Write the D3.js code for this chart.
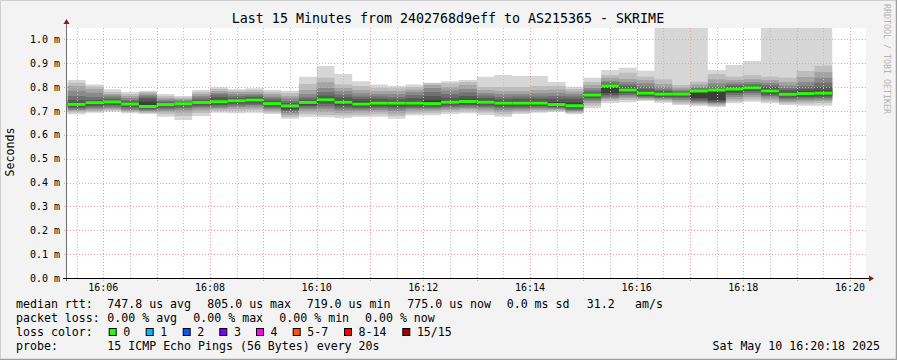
<!DOCTYPE html>
<html><head><meta charset="utf-8">
<script src="https://cdn.jsdelivr.net/npm/d3@7"></script>
<style>
body{margin:0;background:#f3f3f3}
svg{display:block}
text{font-family:"DejaVu Sans Mono",monospace;fill:#000}
</style></head>
<body><svg id="c" width="897" height="360"></svg>
<script>
// ---------------- data ----------------
const title = "Last 15 Minutes from 2402768d9eff to AS215365 - SKRIME";
const yLabel = "Seconds";
const rangeStart = "2025-05-10T16:05:18";
const rangeEnd = "2025-05-10T16:20:18";
const firstSample = "2025-05-10T16:05:20";
const stepSeconds = 20;
// 15 sorted pings (ms) per 20 s sample
const pings = [
[0.686,0.694,0.700,0.704,0.711,0.715,0.721,0.728,0.736,0.746,0.763,0.785,0.805,0.819,0.830],
[0.693,0.698,0.702,0.709,0.715,0.721,0.727,0.735,0.740,0.746,0.759,0.777,0.792,0.803,0.811],
[0.697,0.702,0.707,0.713,0.719,0.725,0.732,0.738,0.742,0.748,0.757,0.765,0.771,0.780,0.791],
[0.691,0.696,0.700,0.704,0.711,0.717,0.723,0.729,0.734,0.740,0.746,0.755,0.763,0.771,0.780],
[0.688,0.692,0.696,0.700,0.704,0.709,0.713,0.719,0.740,0.753,0.761,0.767,0.774,0.780,0.785],
[0.676,0.688,0.696,0.702,0.709,0.715,0.721,0.727,0.732,0.736,0.742,0.748,0.755,0.763,0.771],
[0.662,0.679,0.694,0.704,0.713,0.719,0.725,0.730,0.733,0.736,0.740,0.746,0.751,0.757,0.763],
[0.679,0.692,0.702,0.711,0.717,0.723,0.730,0.736,0.740,0.746,0.755,0.763,0.771,0.780,0.788],
[0.693,0.700,0.707,0.713,0.719,0.725,0.732,0.739,0.746,0.759,0.769,0.776,0.784,0.792,0.800],
[0.691,0.700,0.709,0.717,0.723,0.730,0.736,0.743,0.748,0.755,0.763,0.771,0.780,0.786,0.791],
[0.693,0.702,0.711,0.719,0.725,0.732,0.738,0.746,0.753,0.759,0.765,0.771,0.780,0.788,0.795],
[0.688,0.694,0.700,0.707,0.713,0.719,0.725,0.731,0.736,0.744,0.753,0.761,0.771,0.780,0.788],
[0.668,0.675,0.683,0.692,0.698,0.704,0.711,0.721,0.725,0.734,0.742,0.753,0.763,0.776,0.785],
[0.676,0.688,0.698,0.707,0.715,0.721,0.727,0.736,0.742,0.748,0.758,0.771,0.788,0.813,0.844],
[0.674,0.683,0.696,0.709,0.719,0.730,0.738,0.747,0.755,0.765,0.780,0.797,0.821,0.839,0.889],
[0.671,0.681,0.692,0.702,0.711,0.719,0.727,0.737,0.746,0.758,0.769,0.784,0.797,0.812,0.855],
[0.675,0.683,0.694,0.702,0.709,0.715,0.721,0.729,0.740,0.751,0.761,0.774,0.788,0.805,0.825],
[0.676,0.686,0.696,0.704,0.713,0.719,0.725,0.733,0.740,0.751,0.761,0.771,0.784,0.797,0.811],
[0.668,0.679,0.690,0.700,0.709,0.717,0.725,0.733,0.740,0.748,0.759,0.771,0.784,0.795,0.805],
[0.682,0.690,0.698,0.707,0.713,0.719,0.725,0.733,0.742,0.755,0.767,0.780,0.790,0.801,0.811],
[0.682,0.692,0.700,0.707,0.713,0.719,0.725,0.731,0.746,0.763,0.780,0.797,0.809,0.816,0.819],
[0.688,0.696,0.704,0.711,0.717,0.723,0.730,0.737,0.744,0.757,0.771,0.786,0.801,0.816,0.825],
[0.691,0.698,0.707,0.713,0.719,0.725,0.732,0.740,0.748,0.763,0.778,0.792,0.809,0.822,0.830],
[0.683,0.694,0.702,0.711,0.717,0.723,0.730,0.737,0.744,0.755,0.765,0.776,0.788,0.801,0.844],
[0.676,0.686,0.696,0.704,0.713,0.719,0.725,0.733,0.740,0.748,0.759,0.771,0.784,0.801,0.851],
[0.688,0.694,0.700,0.707,0.713,0.719,0.725,0.733,0.740,0.751,0.761,0.771,0.784,0.801,0.847],
[0.693,0.698,0.704,0.711,0.715,0.721,0.725,0.733,0.740,0.751,0.761,0.774,0.788,0.805,0.847],
[0.696,0.700,0.704,0.709,0.713,0.717,0.721,0.727,0.738,0.751,0.763,0.776,0.790,0.805,0.822],
[0.686,0.692,0.696,0.700,0.704,0.709,0.715,0.722,0.736,0.751,0.761,0.771,0.782,0.792,0.802],
[0.712,0.723,0.734,0.742,0.748,0.755,0.761,0.767,0.771,0.778,0.786,0.797,0.809,0.822,0.839],
[0.734,0.742,0.749,0.755,0.761,0.767,0.776,0.805,0.809,0.813,0.820,0.827,0.839,0.851,0.872],
[0.737,0.746,0.755,0.761,0.767,0.774,0.780,0.788,0.795,0.803,0.811,0.822,0.834,0.860,0.881],
[0.742,0.746,0.751,0.755,0.759,0.763,0.767,0.775,0.782,0.791,0.802,0.816,0.830,0.844,0.869],
[0.735,0.740,0.746,0.751,0.755,0.759,0.765,0.771,0.778,0.784,0.790,0.801,0.813,0.833,1.200],
[0.725,0.732,0.739,0.746,0.753,0.759,0.765,0.771,0.774,0.778,0.784,0.790,0.799,0.809,1.200],
[0.721,0.727,0.733,0.737,0.742,0.748,0.755,0.784,0.786,0.790,0.795,0.801,0.811,0.823,1.200],
[0.717,0.722,0.727,0.733,0.736,0.740,0.746,0.788,0.791,0.795,0.802,0.816,0.833,0.855,0.872],
[0.733,0.740,0.749,0.759,0.767,0.776,0.782,0.792,0.797,0.804,0.811,0.820,0.830,0.844,0.893],
[0.739,0.748,0.759,0.767,0.776,0.783,0.788,0.797,0.801,0.806,0.813,0.822,0.833,0.851,0.910],
[0.733,0.740,0.748,0.757,0.763,0.769,0.776,0.784,0.792,0.801,0.809,0.818,0.830,0.844,1.200],
[0.725,0.732,0.738,0.744,0.751,0.757,0.763,0.770,0.778,0.788,0.797,0.807,0.822,0.839,1.200],
[0.722,0.732,0.740,0.746,0.753,0.759,0.765,0.773,0.782,0.792,0.805,0.822,0.843,0.868,1.200],
[0.722,0.734,0.742,0.748,0.755,0.761,0.767,0.775,0.786,0.801,0.818,0.839,0.864,0.890,1.200]
];
// lost pings per sample (all zero)
const lossCount = pings.map(() => 0);
const yTicks = [0,0.1,0.2,0.3,0.4,0.5,0.6,0.7,0.8,0.9,1.0];
const yMax = 1.048;
const lossLabels = ["0","1","2","3","4","5-7","8-14","15/15"];
const lossColors = ["#26ff00","#00b8ff","#0059ff","#7e00ff","#ff00ff","#ff5500","#ff0000","#a00000"];
const smokeGrays = ["#d6d6d6","#bdbdbd","#a4a4a4","#8a8a8a","#717171","#585858","#3e3e3e"];
const statLine1 = [["median rtt:",16],["747.8 us avg",107.3],["805.0 us max",207.3],["719.0 us min",306.7],["775.0 us now",407.3],["0.0 ms sd",506.7],["31.2",586.7],["am/s",635]];
const statLine2 = [["packet loss:",16],["0.00 % avg",107.3],["0.00 % max",193.3],["0.00 % min",279.3],["0.00 % now",365]];
const probeText = "15 ICMP Echo Pings (56 Bytes) every 20s";
const stampText = "Sat May 10 16:20:18 2025";
const watermark = "RRDTOOL / TOBI OETIKER";

// ---------------- drawing ----------------
const W = 897, H = 360;
const L = 66, R = 866, T = 28, B = 278;
const svg = d3.select("#c");
svg.append("rect").attr("width", W).attr("height", H).attr("fill", "#f3f3f3");
// frame
svg.append("path").attr("d", `M0.5,${H}V0.5H${W}`).attr("fill","none").attr("stroke","#cfcfcf").attr("stroke-width",1);
svg.append("path").attr("d", `M${W-0.5},0V${H-0.5}H0`).attr("fill","none").attr("stroke","#9e9e9e").attr("stroke-width",1.5);

const t0 = new Date(rangeStart), t1 = new Date(rangeEnd);
const x = d3.scaleTime().domain([t0, t1]).range([L, R]);
const y = d3.scaleLinear().domain([0, yMax]).range([B, T]);

svg.append("rect").attr("x", L).attr("y", T).attr("width", R - L).attr("height", B - T).attr("fill", "#fff");

const defs = svg.append("defs");
defs.append("clipPath").attr("id","plot").append("rect").attr("x",L).attr("y",T).attr("width",R-L).attr("height",B-T);

const s0 = new Date(firstSample).getTime();
const stepMs = stepSeconds * 1000;
const samples = pings.map((p, i) => ({ t: new Date(s0 + i * stepMs), t2: new Date(s0 + (i + 1) * stepMs), p, loss: lossCount[i] }));
const last = samples[samples.length - 1];
const stepPts = samples.concat([{ t: last.t2, p: last.p, loss: last.loss }]);

const g = svg.append("g").attr("clip-path", "url(#plot)");
smokeGrays.forEach((col, k) => {
  const area = d3.area().curve(d3.curveStepAfter)
    .x(d => x(d.t)).y0(d => y(d.p[k])).y1(d => y(d.p[14 - k]));
  g.append("path").datum(stepPts).attr("d", area).attr("fill", col);
});
// median bars, coloured by loss
const lossIndex = n => n <= 4 ? n : n <= 7 ? 5 : n <= 14 ? 6 : 7;
g.selectAll(".med").data(samples).join("rect")
  .attr("x", d => x(d.t)).attr("width", d => x(d.t2) - x(d.t))
  .attr("y", d => y(d.p[7]) - 1.5).attr("height", 3)
  .attr("fill", d => lossColors[lossIndex(d.loss)]);

// grid
const grid = svg.append("g");
const minor = d3.timeSecond.every(30).range(t0, t1).filter(d => d.getSeconds() === 30);
const major = d3.timeMinute.every(1).range(t0, t1);
grid.selectAll(".mn").data(minor).join("line")
  .attr("x1", d => Math.round(x(d)) + 0.5).attr("x2", d => Math.round(x(d)) + 0.5)
  .attr("y1", T).attr("y2", B + 2).attr("stroke", "#bdbdbd").attr("stroke-dasharray", "1,2");
grid.selectAll(".mj").data(major).join("line")
  .attr("x1", d => Math.round(x(d)) + 0.5).attr("x2", d => Math.round(x(d)) + 0.5)
  .attr("y1", T).attr("y2", B + 3).attr("stroke", "#f0a0a0").attr("stroke-dasharray", "1,2");
grid.selectAll(".hy").data(yTicks.filter(v => v > 0)).join("line")
  .attr("x1", L - 2).attr("x2", R + 2)
  .attr("y1", d => Math.round(y(d)) + 0.5).attr("y2", d => Math.round(y(d)) + 0.5)
  .attr("stroke", "#f0a0a0").attr("stroke-dasharray", "1,2");

// axes
svg.append("line").attr("x1", L + 0.5).attr("x2", L + 0.5).attr("y1", B + 3).attr("y2", T - 4).attr("stroke", "#707070");
svg.append("line").attr("x1", L - 3).attr("x2", R + 4).attr("y1", B + 0.5).attr("y2", B + 0.5).attr("stroke", "#000");
svg.append("path").attr("d", `M${L-2.5},${T-4}L${L+3.5},${T-4}L${L+0.5},${T-9}Z`).attr("fill", "#8b1a1a");
svg.append("path").attr("d", `M${R+3},${B-2.5}L${R+3},${B+3.5}L${R+8},${B+0.5}Z`).attr("fill", "#8b1a1a");

// y tick labels
svg.selectAll(".yl").data(yTicks).join("text")
  .attr("x", 60).attr("y", d => y(d) + 3.5).attr("text-anchor", "end")
  .attr("font-size", "10px").text(d => d3.format(".1f")(d) + " m");
// x tick labels
const xLabels = d3.timeMinute.every(2).range(t0, t1);
svg.selectAll(".xl").data(xLabels).join("text")
  .attr("x", d => x(d)).attr("y", 291).attr("text-anchor", "middle")
  .attr("font-size", "10px").text(d3.timeFormat("%H:%M"));

// title
svg.append("text").attr("x", 448).attr("y", 23).attr("text-anchor", "middle").attr("font-size", "13.3px").text(title);
// y label
svg.append("text").attr("transform", "translate(14,152) rotate(-90)").attr("text-anchor", "middle")
  .attr("font-size", "11.6px").text(yLabel);
// watermark
svg.append("text").attr("transform", "translate(884,59) rotate(90)").attr("text-anchor", "middle")
  .attr("font-size", "8.3px").style("fill", "#b4b4b4").text(watermark);

// legend
const fs = "11.6px";
const line = (arr, yy) => arr.forEach(([t, xx]) => svg.append("text").attr("x", xx).attr("y", yy).attr("font-size", fs).attr("xml:space","preserve").text(t));
line(statLine1, 308);
line(statLine2, 322);
svg.append("text").attr("x", 16).attr("y", 336).attr("font-size", fs).text("loss color:");
const boxX = [108.7, 145.7, 182.7, 219.3, 256, 292.7, 344, 402.3];
lossLabels.forEach((lab, i) => {
  svg.append("rect").attr("x", boxX[i] + 0.5).attr("y", 328.5).attr("width", 7).attr("height", 7)
    .attr("fill", lossColors[i]).attr("stroke", "#000").attr("stroke-width", 1);
  svg.append("text").attr("x", boxX[i] + 14.6).attr("y", 336).attr("font-size", fs).text(lab);
});
svg.append("text").attr("x", 16).attr("y", 350).attr("font-size", fs).text("probe:");
svg.append("text").attr("x", 107.3).attr("y", 350).attr("font-size", fs).text(probeText);
svg.append("text").attr("x", 880).attr("y", 350).attr("text-anchor", "end").attr("font-size", fs).text(stampText);
</script></body></html>
